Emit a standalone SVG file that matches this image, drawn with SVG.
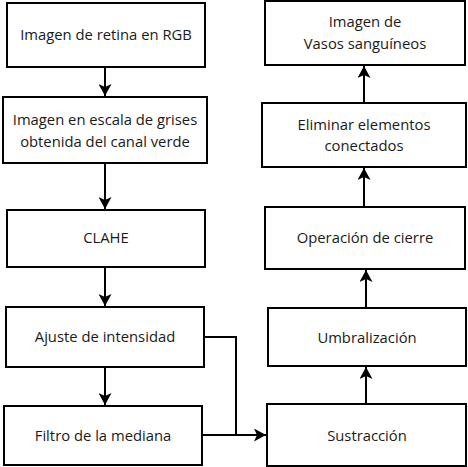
<svg xmlns="http://www.w3.org/2000/svg" width="468" height="467" viewBox="0 0 468 467">
<defs>
<marker id="ah" markerWidth="12" markerHeight="13" refX="12" refY="6.5" orient="auto" markerUnits="userSpaceOnUse">
<path d="M0,0 L12,6.5 L0,13 L3,6.5 Z" fill="#000"/>
</marker>
<style>
.box{fill:#fff;stroke:#000;stroke-width:2}
.t{font-family:"Open Sans","Noto Sans",sans-serif;font-size:14.8px;fill:#1a1a1a;text-anchor:middle}
.c{fill:none;stroke:#000;stroke-width:2}
</style>
</defs>
<rect width="468" height="467" fill="#fff"/>
<g id="n1"><rect class="box" x="7" y="3" width="198" height="64"/><text class="t" x="106" y="40">Imagen de retina en RGB</text></g>
<g id="n2"><rect class="box" x="3" y="97" width="204" height="66"/><text class="t" x="105" y="125">Imagen en escala de grises</text><text class="t" x="105" y="147">obtenida del canal verde</text></g>
<g id="n3"><rect class="box" x="7" y="210" width="198" height="57"/><text class="t" x="106" y="243">CLAHE</text></g>
<g id="n4"><rect class="box" x="6" y="307" width="198" height="60"/><text class="t" x="105" y="342">Ajuste de intensidad</text></g>
<g id="n5"><rect class="box" x="4" y="406" width="198" height="59"/><text class="t" x="103" y="441">Filtro de la mediana</text></g>
<g id="n6"><rect class="box" x="265" y="1" width="200" height="64"/><text class="t" x="365" y="27">Imagen de</text><text class="t" x="365" y="49">Vasos sanguíneos</text></g>
<g id="n7"><rect class="box" x="262" y="103" width="204" height="64"/><text class="t" x="364" y="130">Eliminar elementos</text><text class="t" x="364" y="151">conectados</text></g>
<g id="n8"><rect class="box" x="265" y="207" width="200" height="62"/><text class="t" x="365" y="243">Operación de cierre</text></g>
<g id="n9"><rect class="box" x="268" y="308" width="198" height="58"/><text class="t" x="367" y="343">Umbralización</text></g>
<g id="n10"><rect class="box" x="267" y="404" width="199" height="62"/><text class="t" x="367" y="441">Sustracción</text></g>
<g id="connectors">
<line class="c" x1="105" y1="67" x2="105" y2="96" marker-end="url(#ah)"/>
<line class="c" x1="105" y1="163" x2="105" y2="209" marker-end="url(#ah)"/>
<line class="c" x1="105" y1="267" x2="105" y2="306" marker-end="url(#ah)"/>
<line class="c" x1="105" y1="367" x2="105" y2="405" marker-end="url(#ah)"/>
<polyline class="c" points="204,337 236,337 236,435"/>
<line class="c" x1="202" y1="435" x2="266" y2="435" marker-end="url(#ah)"/>
<line class="c" x1="366" y1="404" x2="366" y2="367" marker-end="url(#ah)"/>
<line class="c" x1="366" y1="308" x2="366" y2="270" marker-end="url(#ah)"/>
<line class="c" x1="364" y1="207" x2="364" y2="168" marker-end="url(#ah)"/>
<line class="c" x1="364" y1="103" x2="364" y2="66" marker-end="url(#ah)"/>
</g>
</svg>
